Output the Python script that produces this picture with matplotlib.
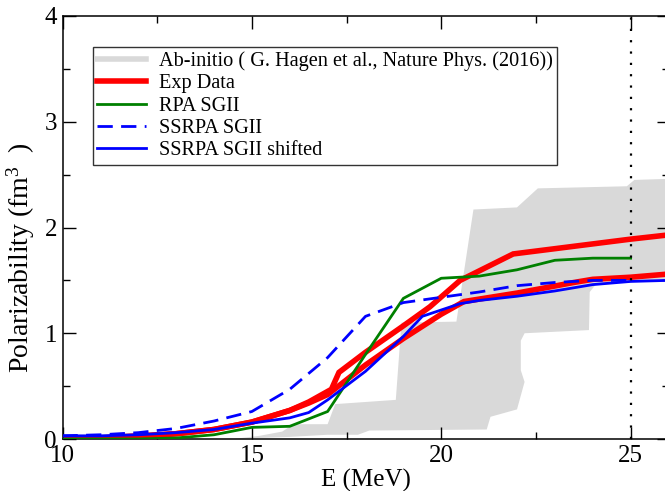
import matplotlib
matplotlib.use("Agg")
import matplotlib.pyplot as plt
from matplotlib.lines import Line2D
from matplotlib.ticker import MultipleLocator

plt.rcParams['font.family'] = ['Liberation Serif', 'DejaVu Serif']
plt.rcParams['mathtext.fontset'] = 'custom'
plt.rcParams['mathtext.rm'] = 'Liberation Serif'
plt.rcParams['mathtext.it'] = 'Liberation Serif:italic'

# Ab-initio band (upper and lower edges)
band_upper_x = [14.5, 15.2, 15.8, 16.1, 17.0, 17.2, 18.8, 18.95, 20.4, 20.85, 22.0, 22.55, 24.9, 25.1, 26.0]
band_upper_y = [0.0, 0.03, 0.07, 0.14, 0.14, 0.33, 0.37, 1.10, 1.11, 2.17, 2.19, 2.37, 2.39, 2.45, 2.46]
band_lower_x = [26.0, 24.1, 23.92, 23.9, 22.2, 22.1, 22.1, 22.2, 22.0, 21.3, 21.2, 18.1, 17.8, 17.0, 16.0, 14.5]
band_lower_y = [1.50, 1.47, 1.39, 1.03, 1.00, 0.93, 0.65, 0.54, 0.28, 0.21, 0.09, 0.08, 0.04, 0.04, 0.02, 0.0]

# Experimental data (upper and lower bounds)
exp_up_x = [10, 11, 12, 13, 14, 15, 16, 16.5, 17.1, 17.3, 18.0, 19.0, 19.7, 20.5, 21.9, 25.0, 26.0]
exp_up_y = [0.0, 0.01, 0.03, 0.05, 0.09, 0.16, 0.27, 0.35, 0.47, 0.63, 0.82, 1.07, 1.25, 1.50, 1.75, 1.89, 1.93]
exp_lo_x = [10, 11, 12, 13, 14, 15, 16, 16.5, 17.0, 18.0, 19.0, 20.0, 20.6, 22.0, 23.5, 24.0, 25.0, 26.0]
exp_lo_y = [0.0, 0.01, 0.02, 0.05, 0.09, 0.16, 0.27, 0.34, 0.42, 0.70, 0.95, 1.18, 1.30, 1.38, 1.48, 1.51, 1.53, 1.56]

# RPA SGII
rpa_x = [10, 11, 12, 13, 14, 15, 16, 17, 18, 19, 20, 21, 22, 23, 24, 25]
rpa_y = [0.0, 0.0, 0.0, 0.01, 0.04, 0.11, 0.12, 0.26, 0.80, 1.33, 1.52, 1.54, 1.60, 1.69, 1.71, 1.71]

# SSRPA SGII
ssrpa_x = [10, 11, 12, 13, 14, 15, 16, 17, 18, 19, 20, 21, 22, 23, 24, 25]
ssrpa_y = [0.03, 0.04, 0.06, 0.10, 0.17, 0.26, 0.47, 0.77, 1.16, 1.29, 1.34, 1.39, 1.45, 1.48, 1.50, 1.50]

# SSRPA SGII shifted
shift_x = [10, 11, 12, 13, 14, 15, 16, 16.5, 17, 18, 19, 19.5, 20, 20.5, 21, 22, 23, 24, 25, 26]
shift_y = [0.03, 0.03, 0.04, 0.06, 0.09, 0.15, 0.20, 0.25, 0.37, 0.64, 0.97, 1.16, 1.22, 1.28, 1.31, 1.35, 1.40, 1.46, 1.49, 1.50]

xmin, xmax = 10, 26
ymin, ymax = 0, 4
vline_x = 25

W, H = 665, 491
fig = plt.figure(figsize=(W / 100, H / 100), dpi=100)
ax = fig.add_axes([62.5 / W, (H - 439) / H, 606 / W, 423 / H])

ax.fill(band_upper_x + band_lower_x, band_upper_y + band_lower_y,
        color='#d9d9d9', lw=0, zorder=1)
ax.plot(exp_up_x, exp_up_y, color='red', lw=4, zorder=2, solid_joinstyle='miter')
ax.plot(exp_lo_x, exp_lo_y, color='red', lw=4, zorder=2, solid_joinstyle='miter')
ax.plot(rpa_x, rpa_y, color='#008000', lw=2, zorder=3)
ax.plot(ssrpa_x, ssrpa_y, color='blue', lw=2, dashes=(5.5, 3.0), zorder=4)
ax.plot(shift_x, shift_y, color='blue', lw=2, zorder=5)
ax.axvline(vline_x, color='black', lw=1.6, dashes=(1, 4.1), zorder=6)

ax.set_xlim(xmin, xmax)
ax.set_ylim(ymin, ymax)
ax.xaxis.set_major_locator(MultipleLocator(5))
ax.xaxis.set_minor_locator(MultipleLocator(2.5))
ax.yaxis.set_major_locator(MultipleLocator(1))
ax.yaxis.set_minor_locator(MultipleLocator(0.5))
ax.tick_params(which='both', direction='in', top=True, right=True, labelsize=18, width=1.0)
ax.tick_params(which='major', length=9, pad=4)
ax.tick_params(which='minor', length=5)
for s in ax.spines.values():
    s.set_linewidth(1.1)

ax.set_xlabel('E (MeV)', fontsize=18, labelpad=2)
ax.set_ylabel('Polarizability (fm$^{3}$  )', fontsize=20)
ax.yaxis.set_label_coords(-0.042, 0.43)

handles = [
    Line2D([], [], color='#d9d9d9', lw=4),
    Line2D([], [], color='red', lw=4),
    Line2D([], [], color='#008000', lw=2),
    Line2D([], [], color='blue', lw=2, dashes=(5.5, 3.0)),
    Line2D([], [], color='blue', lw=2),
]
labels = ['Ab-initio ( G. Hagen et al., Nature Phys. (2016))', 'Exp Data',
          'RPA SGII', 'SSRPA SGII', 'SSRPA SGII shifted']
leg = ax.legend(handles, labels, loc='upper left',
                bbox_to_anchor=((93 - 62.5) / 606, (439 - 47) / 423),
                borderaxespad=0, fancybox=False, framealpha=1,
                edgecolor='#333333', fontsize=14.6, handlelength=2.4,
                handletextpad=0.62, borderpad=0.22, labelspacing=0.15)
leg.get_frame().set_linewidth(1.0)

fig.savefig('out.png', dpi=100)
